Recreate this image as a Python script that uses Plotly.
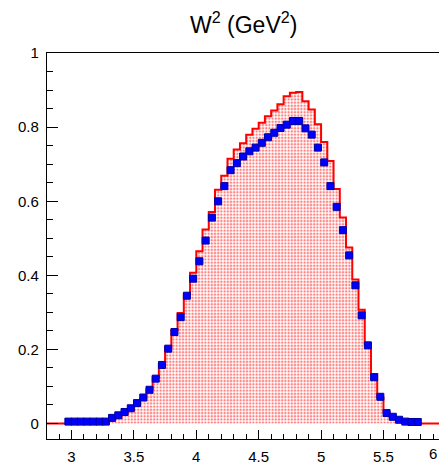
import numpy as np
import plotly.graph_objects as go

# Histogram binning (W^2 in GeV^2)
bin_low = 2.95
bin_width = 0.05

# Simulation (red filled histogram), per bin
mc_values = [0.0, 0.0, 0.0, 0.0, 0.0, 0.0, 0.0,
             0.010, 0.016, 0.025, 0.036, 0.050, 0.068, 0.092, 0.125, 0.160,
             0.205, 0.252, 0.298, 0.349, 0.407, 0.465, 0.524, 0.571, 0.631,
             0.669, 0.715, 0.740, 0.757, 0.780, 0.796, 0.812, 0.830, 0.845,
             0.862, 0.884, 0.893, 0.895, 0.870, 0.848, 0.808, 0.760, 0.709,
             0.633, 0.556, 0.475, 0.389, 0.307, 0.215, 0.133, 0.070, 0.030,
             0.016, 0.008, 0.002, 0.001, 0.0]

# Data (blue points), per bin
data_values = [0.005, 0.005, 0.005, 0.005, 0.005, 0.005, 0.005,
               0.015, 0.022, 0.031, 0.041, 0.055, 0.070, 0.091, 0.121, 0.158,
               0.202, 0.247, 0.287, 0.345, 0.391, 0.438, 0.494, 0.556, 0.600,
               0.641, 0.684, 0.703, 0.721, 0.735, 0.745, 0.758, 0.773, 0.785,
               0.798, 0.807, 0.817, 0.817, 0.797, 0.780, 0.745, 0.705, 0.641,
               0.585, 0.522, 0.454, 0.373, 0.292, 0.211, 0.125, 0.072, 0.028,
               0.018, 0.010, 0.005, 0.004, 0.004]

x_range = [2.8037, 5.945]
y_range = [-0.042, 1.0005]
title_text = "W<sup>2</sup> (GeV<sup>2</sup>)"
last_tick_label = "6"

n = len(mc_values)
edges = bin_low + bin_width * np.arange(n + 1)
centers = edges[:-1] + bin_width / 2

step_x = [x_range[0]] + list(edges) + [x_range[1]]
step_y = [0.0] + list(mc_values) + [0.0, 0.0]

fig = go.Figure()
fig.add_trace(go.Scatter(
    x=step_x, y=step_y, mode="lines", line=dict(color="#ff0000", width=2, shape="hv"),
    fill="tozeroy",
    fillpattern=dict(shape=".", fgcolor="#ff0000", bgcolor="white", size=3.2, solidity=0.45),
    hoverinfo="skip", showlegend=False, cliponaxis=True,
))
fig.add_trace(go.Scatter(
    x=list(centers), y=data_values, mode="markers",
    marker=dict(symbol="square", size=7, color="#0000ff",
                line=dict(color="#0000a0", width=1)),
    error_x=dict(type="constant", value=bin_width / 2, color="#0000ff", thickness=3, width=0),
    showlegend=False, cliponaxis=False,
))

font_family = "Liberation Sans, Arial, sans-serif"
fig.update_layout(
    width=439, height=465,
    margin=dict(l=47, r=0, t=53, b=22, pad=0),
    paper_bgcolor="white", plot_bgcolor="white",
    font=dict(family=font_family, size=15, color="black"),
    showlegend=False,
    xaxis=dict(
        range=x_range, showgrid=False, zeroline=False,
        showline=True, linecolor="black", linewidth=1.2, mirror=True,
        ticks="inside", ticklen=9, tickwidth=1.2, tickcolor="black",
        dtick=0.5, tick0=3, ticklabelstandoff=4,
        minor=dict(dtick=0.1, ticks="inside", ticklen=5, tickwidth=1, tickcolor="black"),
        tickfont=dict(size=15),
    ),
    yaxis=dict(
        range=y_range, showgrid=False, zeroline=False,
        showline=True, linecolor="black", linewidth=1.2,
        ticks="inside", ticklen=11, tickwidth=1.2, tickcolor="black",
        dtick=0.2, tick0=0, ticklabelstandoff=4,
        minor=dict(dtick=0.05, ticks="inside", ticklen=6, tickwidth=1, tickcolor="black"),
        tickfont=dict(size=15),
    ),
    annotations=[
        dict(text=title_text, xref="paper", yref="paper", x=0.5, y=1,
             yshift=30, xanchor="center", yanchor="middle", showarrow=False,
             font=dict(size=23, family=font_family)),
        dict(text=last_tick_label, xref="paper", yref="paper", x=1.0, y=0,
             xanchor="right", yanchor="top", yshift=-4, xshift=0, showarrow=False,
             font=dict(size=15, family=font_family)),
    ],
)

fig.write_html("out.html")
